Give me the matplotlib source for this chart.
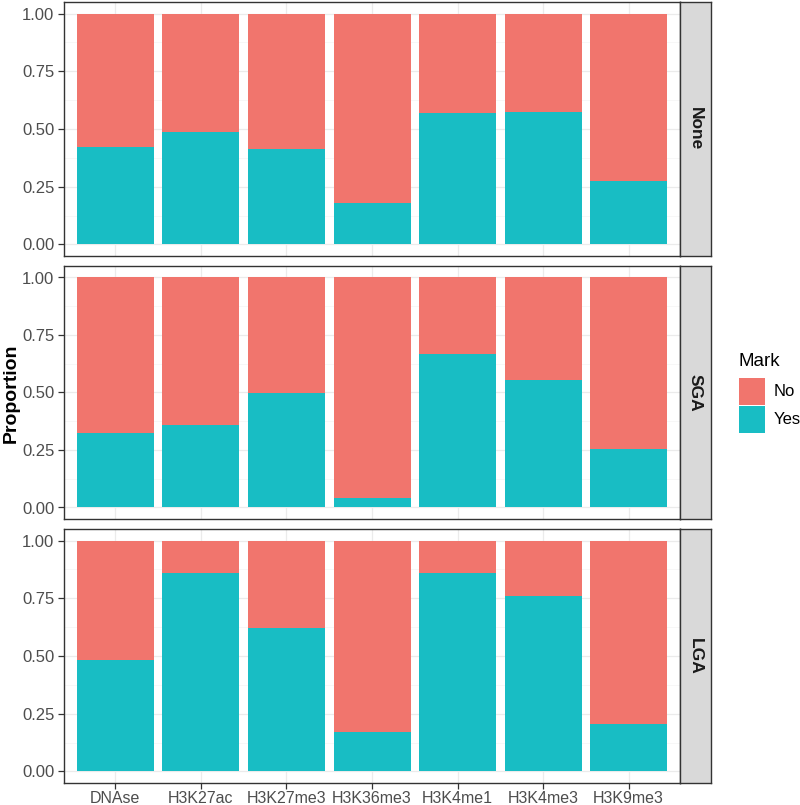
import numpy as np
import matplotlib
matplotlib.use("Agg")
import matplotlib.pyplot as plt
from matplotlib.patches import Rectangle

plt.rcParams['font.family'] = ['Liberation Sans', 'DejaVu Sans']

marks = ["DNAse", "H3K27ac", "H3K27me3", "H3K36me3", "H3K4me1", "H3K4me3", "H3K9me3"]
groups = ["None", "SGA", "LGA"]

# proportion "Yes" per group
yes_none = [0.42, 0.485, 0.414, 0.178, 0.571, 0.574, 0.276]
yes_sga = [0.324, 0.36, 0.499, 0.043, 0.666, 0.554, 0.255]
yes_lga = [0.483, 0.859, 0.622, 0.171, 0.859, 0.760, 0.207]
yes_all = [yes_none, yes_sga, yes_lga]

legend_labels = ["No", "Yes"]
col_no = "#F1756D"
col_yes = "#18BDC4"

fig = plt.figure(figsize=(8, 8.05), dpi=100)
W, H = 800, 805
left, right = 64, 680
strip_w = 31
panels = [(2, 256), (266, 519), (529, 783)]

x = np.arange(len(marks))
for i, (top, bot) in enumerate(panels):
    ax = fig.add_axes([left / W, 1 - bot / H, (right - left) / W, (bot - top) / H])
    yes = np.array(yes_all[i])
    ax.bar(x, yes, width=0.9, color=col_yes, zorder=2)
    ax.bar(x, 1 - yes, bottom=yes, width=0.9, color=col_no, zorder=2)
    ax.set_xlim(-0.6, len(marks) - 0.4)
    ax.set_ylim(-0.05, 1.05)
    ax.set_yticks([0, 0.25, 0.5, 0.75, 1.0])
    ax.set_yticklabels(["0.00", "0.25", "0.50", "0.75", "1.00"])
    ax.set_yticks([0.125, 0.375, 0.625, 0.875], minor=True)
    ax.set_xticks(x)
    ax.grid(True, which="major", color="#EBEBEB", linewidth=0.9, zorder=0)
    ax.grid(True, which="minor", axis="y", color="#F4F4F4", linewidth=0.5, zorder=0)
    ax.set_axisbelow(True)
    ax.tick_params(axis="both", which="major", colors="#333333", labelcolor="#4D4D4D",
                   labelsize=12, length=4, width=0.9, pad=3)
    ax.tick_params(axis="y", which="minor", length=0)
    if i < 2:
        ax.set_xticklabels([])
        ax.tick_params(axis="x", length=0)
    else:
        ax.set_xticklabels(marks)
        ax.tick_params(axis="x", labelsize=11.5, pad=1.5)
    for s in ax.spines.values():
        s.set_color("#333333")
        s.set_linewidth(1.0)

    sax = fig.add_axes([right / W, 1 - bot / H, strip_w / W, (bot - top) / H])
    sax.set_facecolor("#D9D9D9")
    sax.set_xticks([])
    sax.set_yticks([])
    for s in sax.spines.values():
        s.set_color("#333333")
        s.set_linewidth(1.0)
    sax.text(0.5, 0.5, groups[i], rotation=-90, ha="center", va="center",
             fontsize=12.5, fontweight="bold", color="#1A1A1A", transform=sax.transAxes)

fig.text(11 / W, 1 - 393 / H, "Proportion", rotation=90, ha="center", va="center",
         fontsize=14, fontweight="bold")

# legend drawn by hand to sit where the reference has it
fig.text(738 / W, 1 - 361 / H, "Mark", ha="left", va="center", fontsize=13.5)
for k, (lab, c) in enumerate(zip(legend_labels, [col_no, col_yes])):
    ytop = 378 + k * 28
    fig.add_artist(Rectangle((739 / W, 1 - (ytop + 27) / H), 26 / W, 27 / H,
                             facecolor=c, edgecolor="none", transform=fig.transFigure))
    fig.text(774 / W, 1 - (ytop + 13.5) / H, lab, ha="left", va="center", fontsize=12)

fig.savefig("out.png", dpi=100)
